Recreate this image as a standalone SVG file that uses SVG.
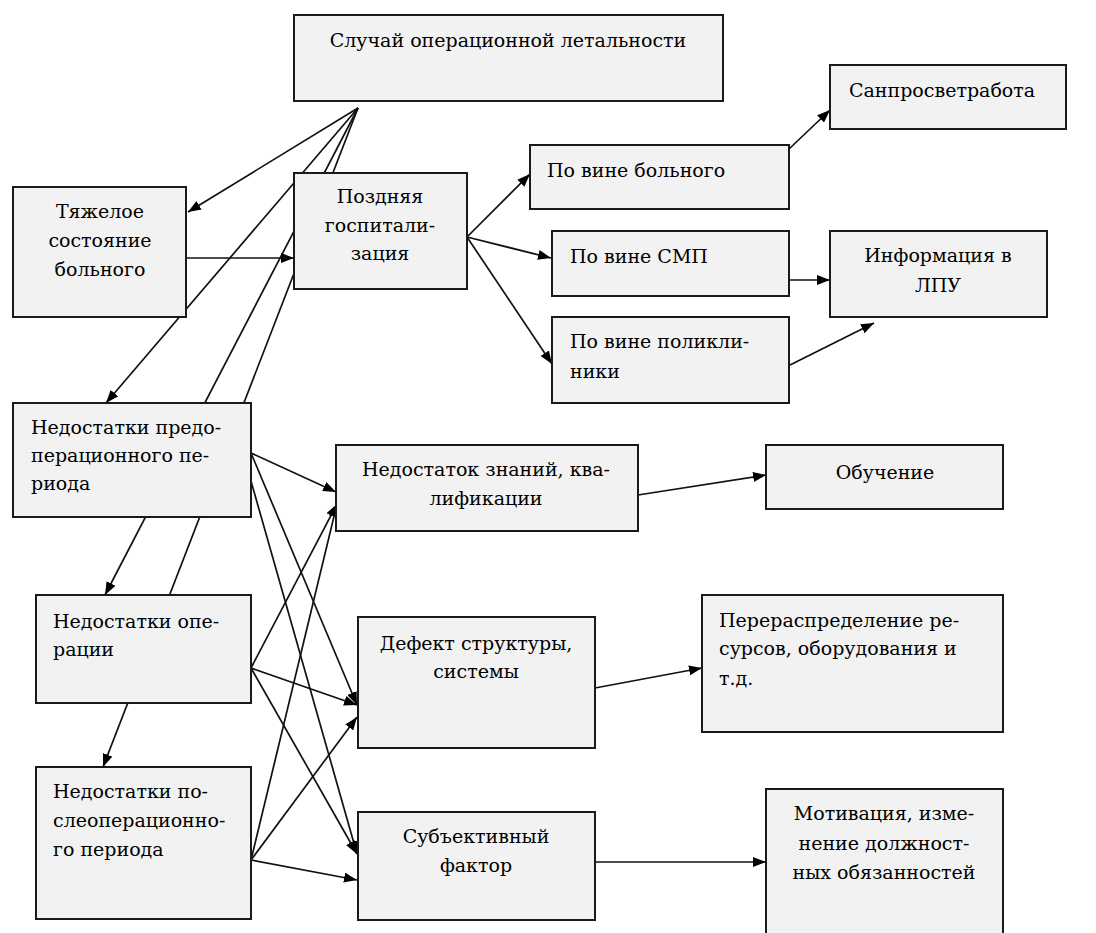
<svg xmlns="http://www.w3.org/2000/svg" width="1096" height="933" viewBox="0 0 1096 933">
  <defs>
    <marker id="arrow" markerUnits="userSpaceOnUse" markerWidth="14" markerHeight="10" refX="13" refY="5" orient="auto">
      <path d="M0,0 L13,5 L0,10 z" fill="#000"/>
    </marker>
    <style>
      .box { fill: #f2f2f2; stroke: #1a1a1a; stroke-width: 2; }
      .lbl { font-family: "DejaVu Serif", serif; font-size: 19px; fill: #000; }
      .c { text-anchor: middle; }
      .edge { stroke: #111; stroke-width: 1.7; fill: none; }
      .arr { marker-end: url(#arrow); }
    </style>
  </defs>
  <rect width="1096" height="933" fill="#fff"/>

  <!-- connectors, drawn beneath the boxes -->
  <g id="connectors">
    <!-- fan from the top case -->
    <line class="edge arr" x1="358" y1="108" x2="188" y2="212"/>
    <line class="edge arr" x1="358" y1="108" x2="106" y2="403"/>
    <line class="edge arr" x1="358" y1="108" x2="105" y2="595"/>
    <line class="edge arr" x1="358" y1="108" x2="103" y2="767"/>
    <!-- severe condition to late hospitalisation -->
    <line class="edge arr" x1="186" y1="258" x2="294" y2="258"/>
    <!-- late hospitalisation branches -->
    <line class="edge arr" x1="467" y1="237" x2="530" y2="174"/>
    <line class="edge arr" x1="467" y1="237" x2="551" y2="258"/>
    <line class="edge arr" x1="467" y1="237" x2="552" y2="364"/>
    <line class="edge arr" x1="789" y1="149" x2="830" y2="110"/>
    <line class="edge arr" x1="789" y1="280" x2="830" y2="280"/>
    <line class="edge arr" x1="790" y1="365" x2="874" y2="323"/>
    <!-- shortcomings to root causes -->
    <line class="edge arr" x1="251" y1="453" x2="336" y2="492"/>
    <line class="edge arr" x1="251" y1="453" x2="357" y2="705"/>
    <line class="edge arr" x1="251" y1="481" x2="357" y2="854"/>
    <line class="edge arr" x1="251" y1="668" x2="337" y2="504"/>
    <line class="edge arr" x1="251" y1="668" x2="357" y2="705"/>
    <line class="edge arr" x1="251" y1="668" x2="357" y2="854"/>
    <line class="edge arr" x1="251" y1="860" x2="337" y2="504"/>
    <line class="edge arr" x1="251" y1="860" x2="357" y2="717"/>
    <line class="edge arr" x1="251" y1="860" x2="357" y2="880"/>
    <!-- root causes to measures -->
    <line class="edge arr" x1="638" y1="495" x2="766" y2="475"/>
    <line class="edge arr" x1="595" y1="688" x2="702" y2="668"/>
    <line class="edge arr" x1="595" y1="862" x2="766" y2="862"/>
  </g>

  <g id="case">
    <rect class="box" x="294" y="15" width="429" height="86"/>
    <text class="lbl c" x="508" y="47">Случай операционной летальности</text>
  </g>

  <g id="severe">
    <rect class="box" x="13" y="187" width="173" height="130"/>
    <text class="lbl c" x="100" y="218">Тяжелое</text>
    <text class="lbl c" x="100" y="247">состояние</text>
    <text class="lbl c" x="100" y="276">больного</text>
  </g>

  <g id="late">
    <rect class="box" x="294" y="173" width="173" height="116"/>
    <text class="lbl c" x="380" y="203">Поздняя</text>
    <text class="lbl c" x="380" y="232">госпитали-</text>
    <text class="lbl c" x="380" y="260">зация</text>
  </g>

  <g id="patient">
    <rect class="box" x="530" y="145" width="259" height="64"/>
    <text class="lbl" x="547" y="177">По вине больного</text>
  </g>

  <g id="sanitary">
    <rect class="box" x="830" y="65" width="236" height="64"/>
    <text class="lbl" x="849" y="97">Санпросветработа</text>
  </g>

  <g id="ambulance">
    <rect class="box" x="552" y="231" width="237" height="65"/>
    <text class="lbl" x="570" y="263">По вине СМП</text>
  </g>

  <g id="info">
    <rect class="box" x="830" y="231" width="217" height="86"/>
    <text class="lbl c" x="938" y="262">Информация в</text>
    <text class="lbl c" x="938" y="292">ЛПУ</text>
  </g>

  <g id="clinic">
    <rect class="box" x="552" y="317" width="237" height="86"/>
    <text class="lbl" x="570" y="348">По вине поликли-</text>
    <text class="lbl" x="570" y="378">ники</text>
  </g>

  <g id="preop">
    <rect class="box" x="13" y="403" width="238" height="114"/>
    <text class="lbl" x="31" y="434">Недостатки предо-</text>
    <text class="lbl" x="31" y="462">перационного пе-</text>
    <text class="lbl" x="31" y="490">риода</text>
  </g>

  <g id="operation">
    <rect class="box" x="36" y="595" width="215" height="108"/>
    <text class="lbl" x="53" y="628">Недостатки опе-</text>
    <text class="lbl" x="53" y="656">рации</text>
  </g>

  <g id="postop">
    <rect class="box" x="36" y="767" width="215" height="152"/>
    <text class="lbl" x="53" y="798">Недостатки по-</text>
    <text class="lbl" x="53" y="827">слеоперационно-</text>
    <text class="lbl" x="53" y="856">го периода</text>
  </g>

  <g id="knowledge">
    <rect class="box" x="336" y="445" width="302" height="86"/>
    <text class="lbl c" x="486" y="476">Недостаток знаний, ква-</text>
    <text class="lbl c" x="486" y="505">лификации</text>
  </g>

  <g id="structure">
    <rect class="box" x="358" y="617" width="237" height="131"/>
    <text class="lbl c" x="476" y="650">Дефект структуры,</text>
    <text class="lbl c" x="476" y="678">системы</text>
  </g>

  <g id="subjective">
    <rect class="box" x="358" y="812" width="237" height="108"/>
    <text class="lbl c" x="476" y="843">Субъективный</text>
    <text class="lbl c" x="476" y="872">фактор</text>
  </g>

  <g id="training">
    <rect class="box" x="766" y="445" width="237" height="64"/>
    <text class="lbl c" x="885" y="479">Обучение</text>
  </g>

  <g id="resources">
    <rect class="box" x="702" y="595" width="301" height="137"/>
    <text class="lbl" x="719" y="627">Перераспределение ре-</text>
    <text class="lbl" x="719" y="655">сурсов, оборудования и</text>
    <text class="lbl" x="719" y="685">т.д.</text>
  </g>

  <g id="motivation">
    <rect class="box" x="766" y="789" width="237" height="160"/>
    <text class="lbl c" x="884" y="820">Мотивация, изме-</text>
    <text class="lbl c" x="884" y="850">нение должност-</text>
    <text class="lbl c" x="884" y="879">ных обязанностей</text>
  </g>
</svg>
